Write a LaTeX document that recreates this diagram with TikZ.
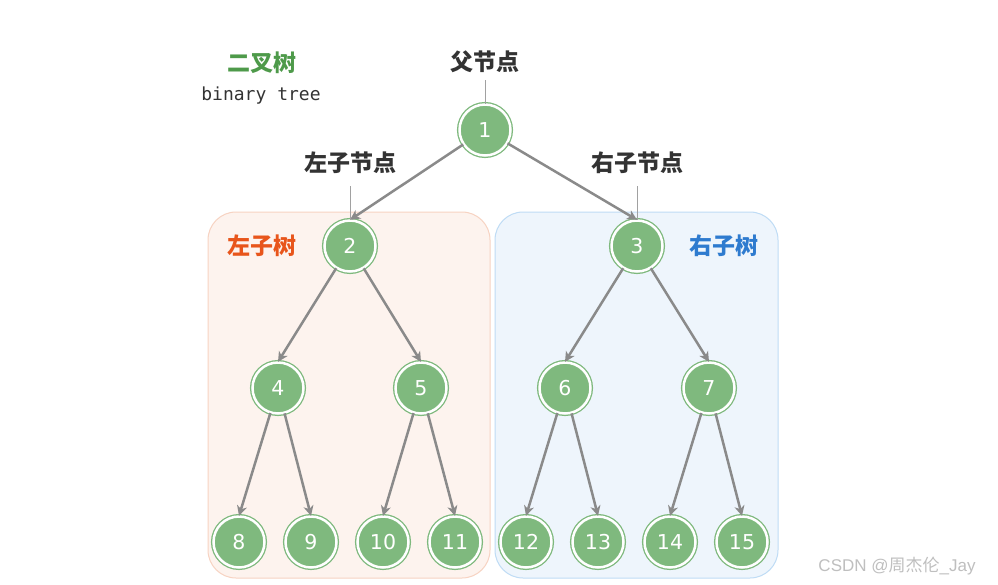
\documentclass[tikz,border=0pt]{standalone}
\usepackage{fontspec}
\usetikzlibrary{arrows.meta}
\newfontfamily\cjk{Noto Sans CJK SC}
\newfontfamily\numfont{DejaVu Sans}
\newfontfamily\monof{DejaVu Sans Mono}
\newfontfamily\wmfont{Liberation Sans}
\definecolor{ngreen}{HTML}{7FB97E}
\definecolor{tgreen}{HTML}{4E9A4A}
\definecolor{edgegray}{HTML}{8A8A8A}
\definecolor{lblgray}{HTML}{333333}
\definecolor{lfill}{HTML}{FDF3EE}
\definecolor{ldraw}{HTML}{F7D3C2}
\definecolor{rfill}{HTML}{EEF5FC}
\definecolor{rdraw}{HTML}{BFDCF5}
\definecolor{lorange}{HTML}{E8551B}
\definecolor{rblue}{HTML}{2E7BCF}
\tikzset{
  tnode/.style={circle, minimum size=51pt, inner sep=0pt, fill=ngreen, draw=ngreen,
    double=white, double distance=2.5pt, line width=1.3pt, text=white,
    font={\numfont\fontsize{20.5}{20.5}\selectfont}},
  edge/.style={draw=edgegray, line width=2.5pt, -{Stealth[length=10pt,width=10pt,inset=3pt]}},
  ptr/.style={font={\cjk\bfseries\fontsize{23}{23}\selectfont}, text=lblgray, inner sep=0pt},
  ptrline/.style={draw=edgegray!80, line width=1pt},
  subtree/.style={rounded corners=28pt, line width=1pt}
}
\begin{document}
\begin{tikzpicture}[x=1pt,y=-1pt]
\useasboundingbox[fill=white] (0,0) rectangle (998,584);
% subtree boxes
\path[subtree, fill=lfill, draw=ldraw] (208,212) rectangle (490,578);
\path[subtree, fill=rfill, draw=rdraw] (495,212) rectangle (778,578);
% title
\node[font={\cjk\bfseries\fontsize{23}{23}\selectfont}, text=tgreen] (title) at (262,63) {二叉树};
\node[font={\monof\fontsize{18}{18}\selectfont}, text=lblgray] (sub) at (261,96) {binary tree};
\node[font={\cjk\bfseries\fontsize{23}{23}\selectfont}, text=lorange] (lt) at (262,246) {左子树};
\node[font={\cjk\bfseries\fontsize{23}{23}\selectfont}, text=rblue] (rt) at (724,246) {右子树};
% nodes
\node[tnode] (n1) at (485,130) {1};
\node[tnode] (n2) at (350,246) {2};
\node[tnode] (n3) at (637,246) {3};
\node[tnode] (n4) at (278,388) {4};
\node[tnode] (n5) at (421,388) {5};
\node[tnode] (n6) at (565,388) {6};
\node[tnode] (n7) at (709,388) {7};
\node[tnode] (n8) at (239,542) {8};
\node[tnode] (n9) at (311,542) {9};
\node[tnode] (n10) at (383,542) {10};
\node[tnode] (n11) at (455,542) {11};
\node[tnode] (n12) at (526,542) {12};
\node[tnode] (n13) at (598,542) {13};
\node[tnode] (n14) at (670,542) {14};
\node[tnode] (n15) at (742,542) {15};
% edges
\foreach \a/\b in {n1/n2,n1/n3,n2/n4,n2/n5,n3/n6,n3/n7,n4/n8,n4/n9,n5/n10,n5/n11,n6/n12,n6/n13,n7/n14,n7/n15}
  \draw[edge] (\a) -- (\b.north);
% pointer labels
\node[ptr] (p1) at (485,62) {父节点};
\node[ptr] (p2) at (350,163) {左子节点};
\node[ptr] (p3) at (637,163) {右子节点};
\draw[ptrline] (p1.south) ++(0,7) coordinate (p1a) -- (n1.north);
\draw[ptrline] (p2.south) ++(0,12) coordinate (p2a) -- (n2.north);
\draw[ptrline] (p3.south) ++(0,12) coordinate (p3a) -- (n3.north);
% watermark
\node[font={\wmfont\fontsize{17}{17}\selectfont}, text=black!25] (wm) at (897,566) {CSDN @{\cjk 周杰伦}\_Jay};
\end{tikzpicture}
\end{document}
